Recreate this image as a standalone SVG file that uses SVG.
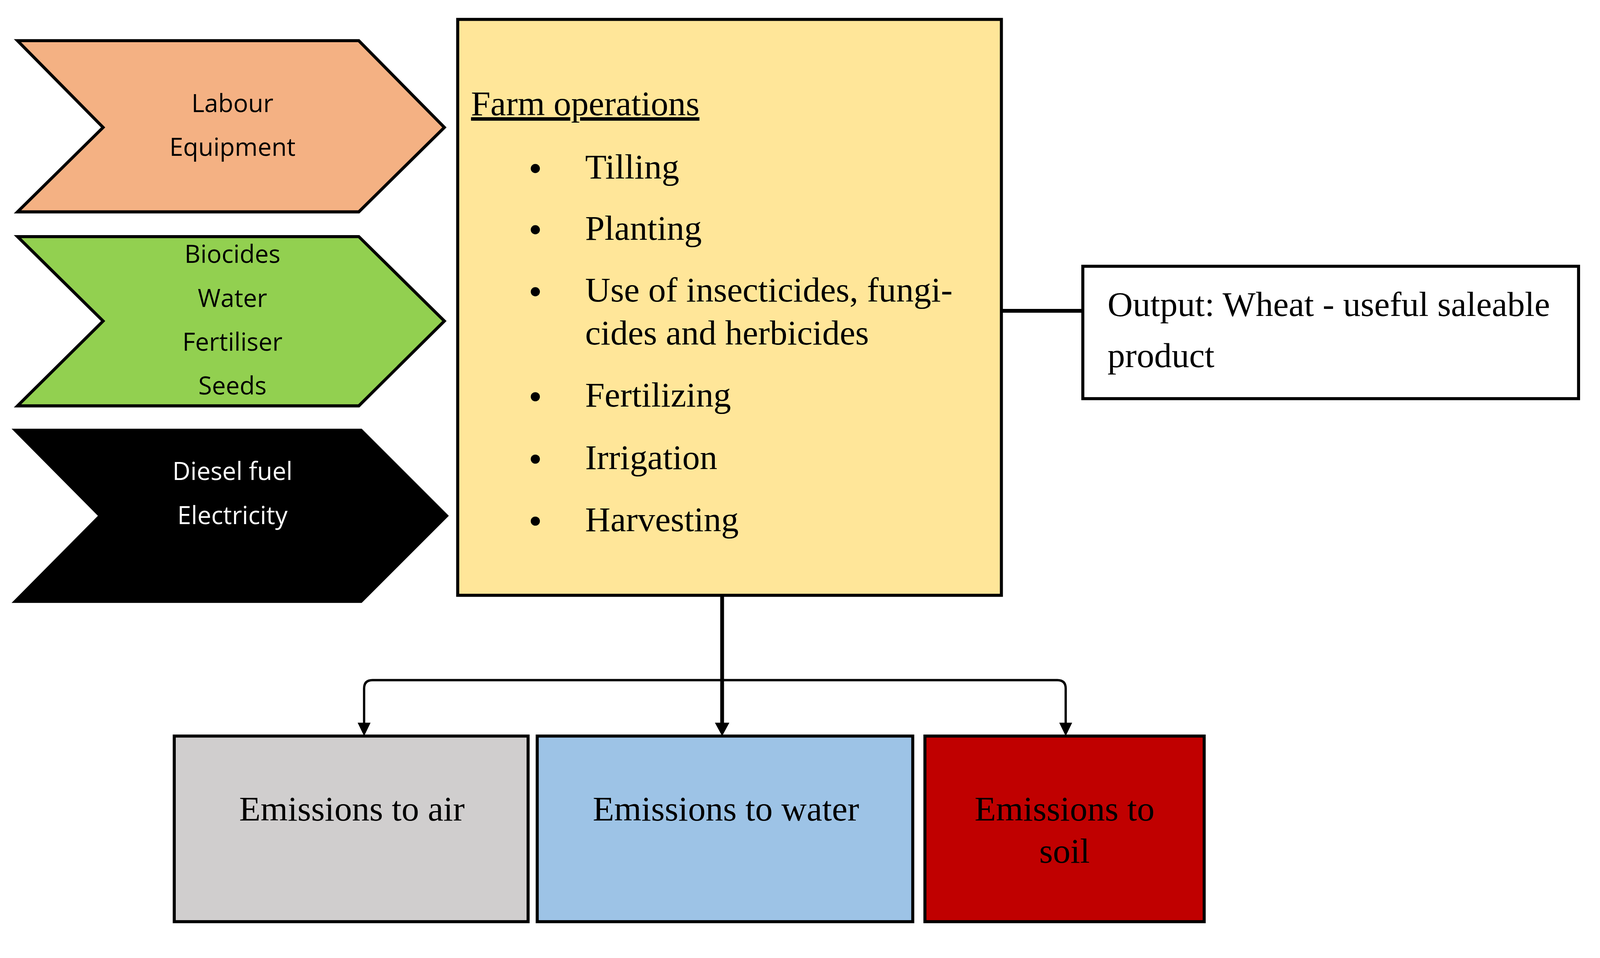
<svg xmlns="http://www.w3.org/2000/svg" width="4181" height="2453" viewBox="0 0 4181 2453">
<style>
.s{stroke:#000;stroke-width:8}
.c{font-family:"Open Sans","Liberation Sans",sans-serif;font-size:65px;text-anchor:middle}
.p{font-family:"Liberation Serif","DejaVu Serif",serif;font-size:92px}
.m{text-anchor:middle}
.ln{fill:none;stroke:#000}
</style>
<rect width="4181" height="2453" fill="#fff"/>
<g transform="scale(0.974)">
<g id="labour">
<polygon class="s" fill="#F4B183" points="46,107 943,107 1168,335 943,557 46,557 271,335"/>
<text class="c" x="611" y="295">Labour</text><text class="c" x="611" y="410">Equipment</text>
</g>
<g id="materials">
<polygon class="s" fill="#92D050" points="46,622 943,622 1168,844 943,1067 46,1067 271,844"/>
<text class="c" x="611" y="691">Biocides</text><text class="c" x="611" y="807">Water</text><text class="c" x="611" y="922">Fertiliser</text><text class="c" x="611" y="1037">Seeds</text>
</g>
<g id="energy">
<polygon class="s" fill="#000" points="40,1131 949,1131 1174,1356 949,1581 40,1581 263,1356"/>
<text class="c" x="611" y="1262" fill="#fff">Diesel fuel</text><text class="c" x="611" y="1378" fill="#fff">Electricity</text>
</g>
<g id="farm">
<rect class="s" fill="#FFE699" x="1203" y="51" width="1429" height="1514"/>
<text class="p" x="1238" y="303" text-decoration="underline">Farm operations</text>
<g fill="#000"><circle cx="1407" cy="443" r="12"/><circle cx="1407" cy="604" r="12"/><circle cx="1407" cy="767" r="12"/><circle cx="1407" cy="1043" r="12"/><circle cx="1407" cy="1207" r="12"/><circle cx="1407" cy="1370" r="12"/></g>
<text class="p" x="1538" y="469">Tilling</text>
<text class="p" x="1538" y="630">Planting</text>
<text class="p" x="1538" y="793">Use of insecticides, fungi-</text>
<text class="p" x="1538" y="906">cides and herbicides</text>
<text class="p" x="1538" y="1069">Fertilizing</text>
<text class="p" x="1538" y="1233">Irrigation</text>
<text class="p" x="1538" y="1396">Harvesting</text>
</g>
<g id="output">
<rect class="s" fill="#fff" x="2846" y="700" width="1303" height="348"/>
<text class="p" x="2911" y="831">Output: Wheat - useful saleable</text>
<text class="p" x="2911" y="965">product</text>
</g>
<g id="air"><rect class="s" fill="#D0CECE" x="458" y="1935" width="930" height="488"/><text class="p m" x="925" y="2157">Emissions to air</text></g>
<g id="water"><rect class="s" fill="#9DC3E6" x="1412" y="1935" width="987" height="488"/><text class="p m" x="1908" y="2157">Emissions to water</text></g>
<g id="soil"><rect class="s" fill="#C00000" x="2431" y="1935" width="734" height="488"/><text class="p m" x="2798" y="2157">Emissions to</text><text class="p m" x="2798" y="2268">soil</text></g>
<g id="connectors">
<line class="ln" stroke-width="10" x1="2632" y1="817" x2="2846" y2="817"/>
<path class="ln" stroke-width="10" d="M1898,1565 V1905"/>
<path class="ln" stroke-width="6" d="M957,1905 V1810 Q957,1788 979,1788 H2779 Q2801,1788 2801,1810 V1905" />
<path d="M940,1900 L974,1900 L957,1935 z M1879,1900 L1917,1900 L1898,1935 z M2784,1900 L2818,1900 L2801,1935 z"/>
</g>
</g>
</svg>
